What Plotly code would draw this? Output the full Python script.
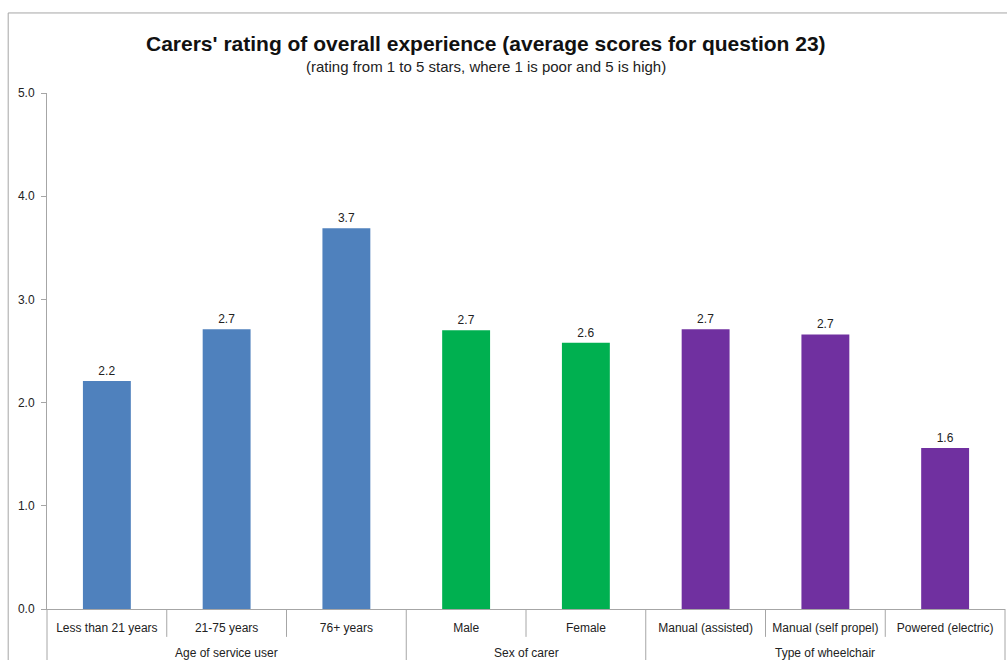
import plotly.graph_objects as go

# Rating data, grouped by respondent characteristic
groups = ["Age of service user", "Sex of carer", "Type of wheelchair"]
categories = [
    ["Less than 21 years", "21-75 years", "76+ years"],
    ["Male", "Female"],
    ["Manual (assisted)", "Manual (self propel)", "Powered (electric)"],
]
scores = [
    [2.21, 2.71, 3.69],
    [2.70, 2.58],
    [2.71, 2.66, 1.56],
]
group_colors = ["#4F81BD", "#00B050", "#7030A0"]

font_family = "Liberation Sans, Arial, sans-serif"

all_cats = [c for g in categories for c in g]
n = len(all_cats)

fig = go.Figure()
for g, cats, vals, col in zip(groups, categories, scores, group_colors):
    fig.add_trace(go.Bar(
        x=cats, y=vals, name=g,
        marker=dict(color=col, line=dict(width=0)),
        texttemplate="%{y:.1f}", textposition="outside",
        textfont=dict(size=12, color="#222222", family=font_family),
        cliponaxis=False,
    ))

shapes = []
# separators beneath the category axis
idx = 0
boundaries = [0]
for cats in categories:
    idx += len(cats)
    boundaries.append(idx)
for i in range(n + 1):
    full = i in boundaries
    shapes.append(dict(
        type="line", xref="paper", yref="paper",
        x0=i / n, x1=i / n, y0=0, y1=-0.13 if full else -0.054,
        line=dict(color="#a6a6a6", width=1),
    ))
# outer chart frame
shapes.append(dict(
    type="rect", xref="paper", yref="paper",
    x0=-0.0405, x1=1.02, y0=-0.2, y1=1.1551,
    line=dict(color="#a6a6a6", width=1),
))

annotations = []
start = 0
for g, cats in zip(groups, categories):
    center = start + (len(cats) - 1) / 2
    annotations.append(dict(
        x=center, xref="x", y=-0.0853, yref="paper",
        text=g, showarrow=False, yanchor="middle", xanchor="center",
        font=dict(size=12, color="#222222", family=font_family),
    ))
    start += len(cats)

annotations += [
    dict(text="<b>Carers' rating of overall experience (average scores for question 23)</b>",
         xref="paper", yref="paper", x=0.458, y=1.0 + (93 - 43) / 516,
         xanchor="center", yanchor="middle", showarrow=False,
         font=dict(size=21, color="#111111", family=font_family)),
    dict(text="(rating from 1 to 5 stars, where 1 is poor and 5 is high)",
         xref="paper", yref="paper", x=0.458, y=1.0 + (93 - 67) / 516,
         xanchor="center", yanchor="middle", showarrow=False,
         font=dict(size=15, color="#222222", family=font_family)),
]

fig.update_layout(
    width=1007, height=660,
    margin=dict(l=47, r=2, t=93, b=51),
    paper_bgcolor="white", plot_bgcolor="white",
    showlegend=False,
    bargap=0.6,
    barmode="overlay",
    shapes=shapes,
    annotations=annotations,
    xaxis=dict(
        type="category", categoryorder="array", categoryarray=all_cats,
        range=[-0.5, n - 0.5],
        showline=True, linecolor="#a6a6a6", linewidth=1,
        ticks="", showgrid=False, zeroline=False,
        tickfont=dict(size=12, color="#222222", family=font_family),
        ticklabelstandoff=8,
    ),
    yaxis=dict(
        range=[0, 5], dtick=1, tickformat=".1f",
        showline=True, linecolor="#a6a6a6", linewidth=1,
        ticks="outside", ticklen=5, tickcolor="#a6a6a6",
        showgrid=False, zeroline=False,
        tickfont=dict(size=12, color="#222222", family=font_family),
        ticklabelstandoff=4,
    ),
)

fig.write_html("out.html")
